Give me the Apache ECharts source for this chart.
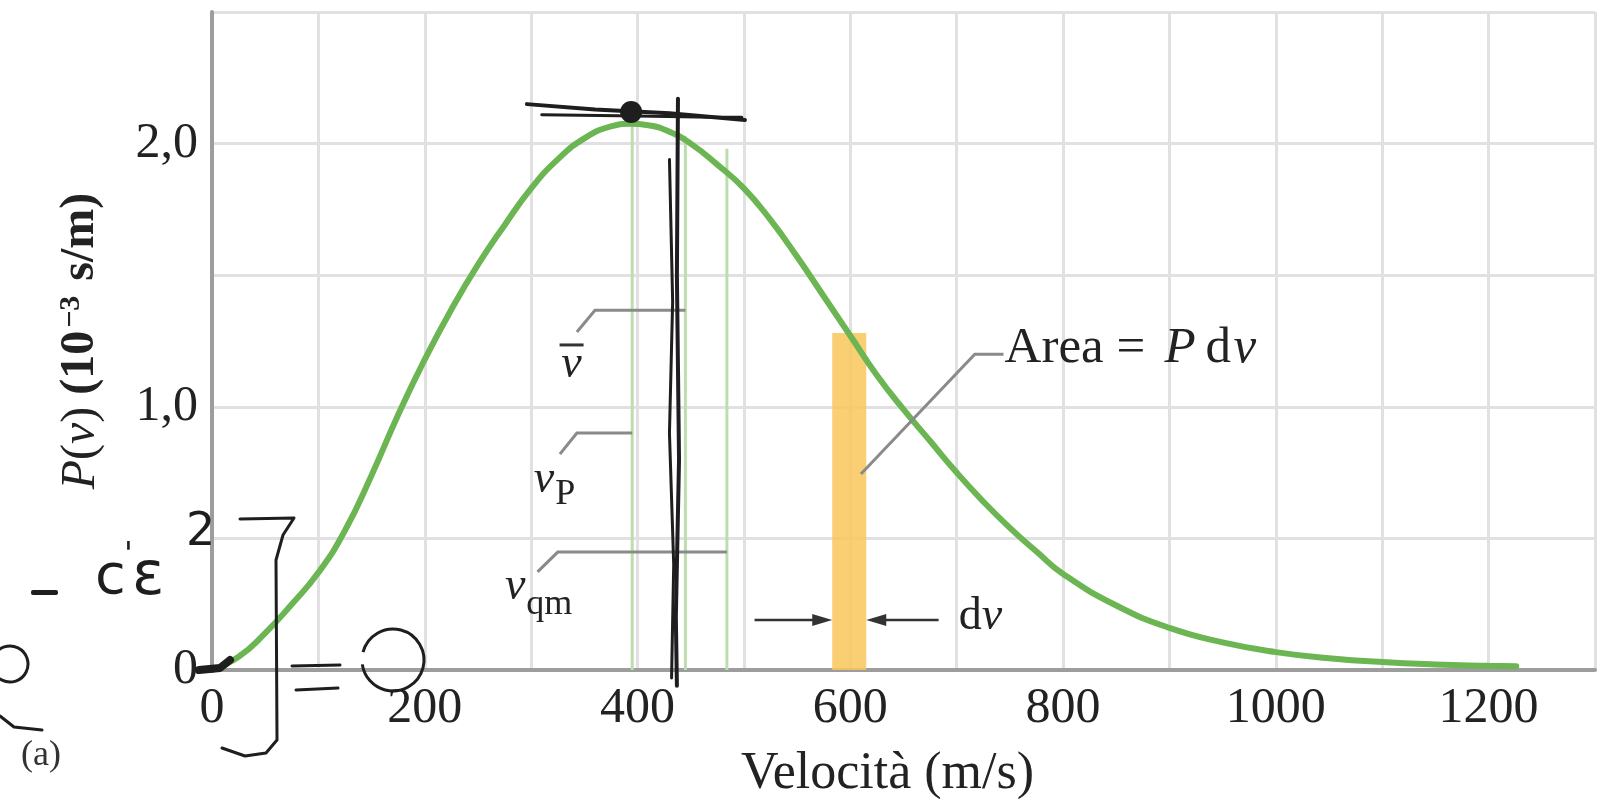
<!DOCTYPE html>
<html lang="it">
<head>
<meta charset="UTF-8">
<title>Distribuzione delle velocità</title>
<script src="https://cdn.jsdelivr.net/npm/echarts@6/dist/echarts.min.js"></script>
<style>
  html, body { margin: 0; padding: 0; background: #fff; }
  #main { width: 1601px; height: 805px; }
</style>
</head>
<body>
<div id="main"></div>
<script>
// curva P(v) (v in m/s, P in 10^-3 s/m)
var speeds = [0, 25, 50, 75, 100, 125, 150, 175, 200, 225, 250, 275, 300, 325, 350, 375, 393, 410, 430, 450,
  475, 500, 525, 550, 575, 600, 625, 650, 675, 700, 725, 750, 775, 800, 850, 900, 950, 1000, 1050, 1100, 1150, 1200, 1226];
var density = [0, 0.05, 0.14, 0.25, 0.37, 0.53, 0.74, 0.97, 1.18, 1.37, 1.54, 1.69, 1.83, 1.94, 2.02, 2.065, 2.075, 2.07, 2.045, 2.0,
  1.92, 1.83, 1.71, 1.57, 1.42, 1.27, 1.12, 0.99, 0.87, 0.75, 0.64, 0.54, 0.45, 0.365, 0.245, 0.16, 0.105, 0.068, 0.045, 0.03, 0.021, 0.016, 0.014];

// velocita caratteristiche: vP, v media, vqm
var markSpeeds = [395, 445, 484];
var markTops = [2.075, 2.03, 1.98];

// striscia dv
var bandFrom = 583;
var bandTo = 615;
var bandTop = 1.28;

var xTicks = [0, 200, 400, 600, 800, 1000, 1200];
var yTicks = [0, 1, 2];
var yTickText = ['0', '1,0', '2,0'];

var serif = '"Liberation Serif", "Times New Roman", serif';

var curveData = speeds.map(function (v, i) { return [v, density[i]]; });

var chart = echarts.init(document.getElementById('main'));

var option = {
  animation: false,
  backgroundColor: '#fff',
  grid: { left: 212, right: 6, top: 12, bottom: 129 },
  xAxis: {
    type: 'value', min: 0, max: 1300, interval: 100,
    name: 'Velocità (m/s)', nameLocation: 'middle', nameGap: 78,
    nameTextStyle: { fontFamily: serif, fontSize: 52, color: '#222', padding: [0, 32, 0, 0] },
    axisLine: { show: true, lineStyle: { color: '#9d9d9d', width: 4 } },
    axisTick: { show: false },
    axisLabel: {
      margin: 14, fontFamily: serif, fontSize: 50, color: '#222',
      formatter: function (v) { return xTicks.indexOf(v) >= 0 ? String(v) : ''; }
    },
    splitLine: { lineStyle: { color: '#e1e1e3', width: 3 } }
  },
  yAxis: {
    type: 'value', min: 0, max: 2.5, interval: 0.5,
    name: '{it|P}({it|v}) {b|(10}{sup|−3}{b| s/m)}',
    nameLocation: 'middle', nameGap: 106,
    nameTextStyle: {
      fontFamily: serif, fontSize: 48, color: '#222',
      rich: {
        it: { fontFamily: serif, fontSize: 48, fontStyle: 'italic', color: '#222' },
        b: { fontFamily: serif, fontSize: 48, fontWeight: 'bold', color: '#222' },
        sup: { fontFamily: serif, fontSize: 30, fontWeight: 'bold', color: '#222', verticalAlign: 'top', padding: [0, 3, 20, 3] }
      }
    },
    axisLine: { show: true, lineStyle: { color: '#9d9d9d', width: 4 } },
    axisTick: { show: false },
    axisLabel: {
      margin: 14, fontFamily: serif, fontSize: 50, color: '#222',
      formatter: function (v) {
        var k = yTicks.indexOf(v);
        return k >= 0 ? yTickText[k] : '';
      }
    },
    splitLine: { lineStyle: { color: '#e1e1e3', width: 3 } }
  },
  series: [
    {
      type: 'custom',
      name: 'dv',
      z: 2,
      data: [[bandFrom, bandTo, bandTop]],
      renderItem: function (params, api) {
        var a = api.coord([api.value(0), api.value(2)]);
        var b = api.coord([api.value(1), 0]);
        return {
          type: 'rect',
          shape: { x: a[0], y: a[1], width: b[0] - a[0], height: b[1] - a[1] },
          style: { fill: 'rgba(249,198,90,0.85)' }
        };
      }
    },
    {
      type: 'custom',
      name: 'velocita',
      z: 3,
      data: markSpeeds.map(function (v, i) { return [v, markTops[i]]; }),
      renderItem: function (params, api) {
        var a = api.coord([api.value(0), api.value(1)]);
        var b = api.coord([api.value(0), 0]);
        return {
          type: 'line',
          shape: { x1: a[0], y1: a[1], x2: b[0], y2: b[1] },
          style: { stroke: '#bcdeae', lineWidth: 3 }
        };
      }
    },
    {
      type: 'line',
      name: 'P(v)',
      z: 5,
      data: curveData,
      smooth: true,
      showSymbol: false,
      lineStyle: { color: '#6cb553', width: 6, cap: 'round' }
    }
  ]
};

chart.setOption(option);

function px(v, p) { return chart.convertToPixel({ gridIndex: 0 }, [v, p]); }
function pts(list) { return list.map(function (q) { return px(q[0], q[1]); }); }

var gray = '#8a8a8a';
var ink = '#1e1e1e';
var els = [];

function txt(s, x, y, font, color, align) {
  els.push({ type: 'text', z: 21, x: x, y: y,
    style: { text: s, font: font, fill: color || '#222', align: align || 'left', verticalAlign: 'middle',
      textAlign: align || 'left', textVerticalAlign: 'middle' } });
}
function leader(list) {
  els.push({ type: 'polyline', z: 20, shape: { points: pts(list) }, style: { stroke: gray, lineWidth: 3, fill: null } });
}
function label(s, v, p, font, align) {
  var q = px(v, p);
  txt(s, q[0], q[1], font, '#222', align || 'center');
}
function arrow(fromV, toV, p) {
  var a = px(fromV, p), b = px(toV, p);
  var dir = b[0] > a[0] ? 1 : -1;
  els.push({ type: 'line', z: 20, shape: { x1: a[0], y1: a[1], x2: b[0] - dir * 14, y2: b[1] }, style: { stroke: '#333', lineWidth: 2.5 } });
  els.push({ type: 'polygon', z: 20, shape: { points: [[b[0], b[1]], [b[0] - dir * 20, b[1] - 6], [b[0] - dir * 20, b[1] + 6]] }, style: { fill: '#333' } });
}

// leader e etichette
leader([[343, 1.284], [360, 1.367], [445, 1.367]]);
label('v', 338, 1.16, 'italic 46px ' + serif);
var ob = px(338, 1.235);
els.push({ type: 'line', z: 21, shape: { x1: ob[0] - 12, y1: ob[1], x2: ob[0] + 12, y2: ob[1] }, style: { stroke: '#333', lineWidth: 3 } });

leader([[327, 0.82], [343, 0.9], [395, 0.9]]);
label('v', 312, 0.723, 'italic 46px ' + serif);
label('P', 332, 0.665, '36px ' + serif);

leader([[306, 0.373], [325, 0.448], [484, 0.448]]);
label('v', 285, 0.316, 'italic 46px ' + serif);
label('qm', 317, 0.25, '36px ' + serif);

leader([[610, 0.745], [717, 1.2], [744, 1.2]]);
var ap = px(745, 1.22);
txt('Area =', ap[0], ap[1], '51px ' + serif);
txt('P', ap[0] + 160, ap[1], 'italic 51px ' + serif);
txt('d', ap[0] + 201, ap[1], '51px ' + serif);
txt('v', ap[0] + 229, ap[1], 'italic 51px ' + serif);

arrow(510, bandFrom, 0.19);
arrow(683, bandTo, 0.19);
var dp = px(702, 0.2);
txt('d', dp[0], dp[1], '46px ' + serif);
txt('v', dp[0] + 23, dp[1], 'italic 46px ' + serif);

// segni a mano sopra il grafico
function ink_(list, w) {
  els.push({ type: 'polyline', z: 30, shape: { points: pts(list) }, style: { stroke: ink, lineWidth: w || 3, fill: null, lineCap: 'round', lineJoin: 'round' } });
}
ink_([[438, 2.17], [437, 1.5], [439, 0.8], [436, 0.2], [437, -0.06]], 4);
ink_([[430, 1.94], [433, 1.4], [430, 0.9], [434, 0.4], [432, -0.03]], 3);
ink_([[296, 2.15], [360, 2.13], [430, 2.115], [501, 2.09]], 4);
ink_([[310, 2.11], [400, 2.105], [470, 2.1], [498, 2.1]], 3);
var blob = px(394, 2.12);
els.push({ type: 'circle', z: 30, shape: { cx: blob[0], cy: blob[1], r: 11 }, style: { fill: ink } });

// formula scritta a margine (pixel)
function pl(points, w) {
  els.push({ type: 'polyline', z: 30, shape: { points: points }, style: { stroke: ink, lineWidth: w || 3, fill: null, lineCap: 'round', lineJoin: 'round' } });
}
pl([[199, 670], [220, 668], [230, 660]], 8);
els.push({ type: 'rect', z: 30, shape: { x: 31, y: 590, width: 27, height: 5, r: 2 }, style: { fill: ink } });
pl([[240, 519], [294, 518], [283, 535], [276, 560], [277, 740], [266, 753], [245, 756], [222, 748]], 3);
pl([[292, 666], [340, 665]], 3);
pl([[296, 690], [338, 688]], 3);
pl([[0, 716], [14, 727], [42, 730]], 3);
els.push({ type: 'arc', z: 30, shape: { cx: 393, cy: 660, r: 31, startAngle: 3.4, endAngle: 3.0 + Math.PI * 2, clockwise: true }, style: { stroke: ink, lineWidth: 3, fill: null } });
els.push({ type: 'arc', z: 30, shape: { cx: 10, cy: 664, r: 18, startAngle: 3.6, endAngle: 3.0 + Math.PI * 2, clockwise: true }, style: { stroke: ink, lineWidth: 3, fill: null } });
txt('c', 95, 578, '56px "DejaVu Sans"', ink);
txt("'", 124, 556, '32px "DejaVu Sans"', ink);
txt('ɛ', 132, 578, '60px "DejaVu Sans"', ink);
txt('2', 186, 533, '46px "DejaVu Sans"', ink);

txt('(a)', 41, 756, '36px ' + serif, '#333', 'center');

chart.setOption({ graphic: { elements: els } });
</script>
</body>
</html>
